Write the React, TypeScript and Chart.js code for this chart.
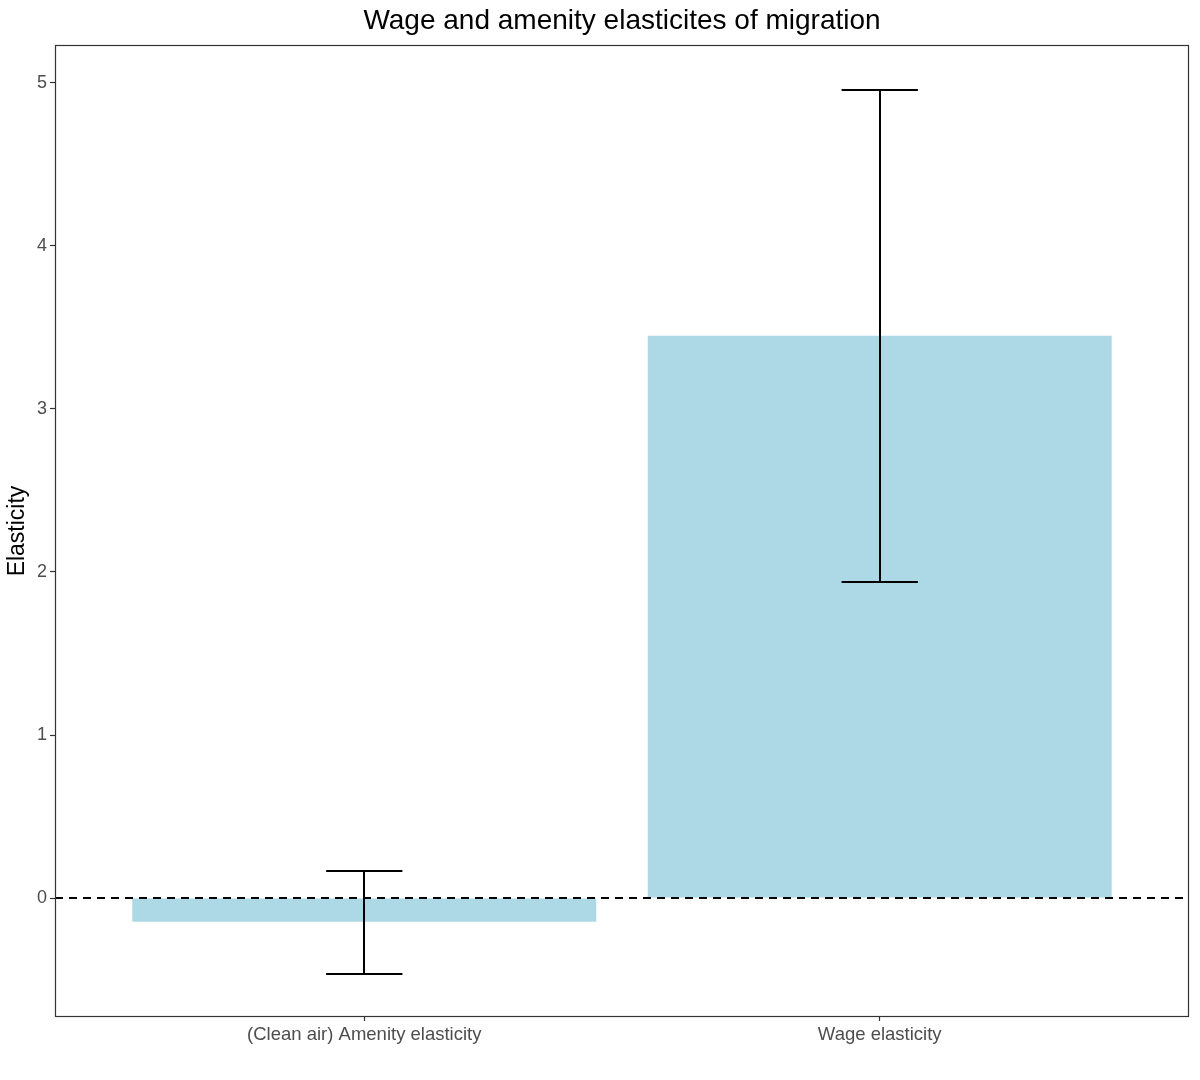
import React, { useEffect, useRef } from "react";
import { Chart, registerables } from "chart.js";

Chart.register(...registerables);

const categories = ["(Clean air) Amenity elasticity", "Wage elasticity"];
const positions = [1, 2];
const estimates = [-0.145, 3.45];
const lowerCI = [-0.465, 1.94];
const upperCI = [0.165, 4.96];
const yTicks = [0, 1, 2, 3, 4, 5];

const FONT = "'Liberation Sans', Arial, Helvetica, sans-serif";

const panelPlugin = {
  id: "panelDecor",
  afterDatasetsDraw(chart: any) {
    const { ctx, chartArea, scales } = chart;
    const xs = scales.x;
    const ys = scales.y;
    ctx.save();
    // dashed zero line
    ctx.beginPath();
    ctx.setLineDash([8, 6]);
    ctx.strokeStyle = "#000";
    ctx.lineWidth = 2;
    const y0 = Math.round(ys.getPixelForValue(0));
    ctx.moveTo(chartArea.left, y0);
    ctx.lineTo(chartArea.right, y0);
    ctx.stroke();
    ctx.setLineDash([]);
    // error bars
    ctx.lineWidth = 2;
    ctx.strokeStyle = "#000";
    for (let i = 0; i < positions.length; i++) {
      const xc = Math.round(xs.getPixelForValue(positions[i]));
      const xl = xs.getPixelForValue(positions[i] - 0.074);
      const xr = xs.getPixelForValue(positions[i] + 0.074);
      const yh = Math.round(ys.getPixelForValue(upperCI[i]));
      const yl = Math.round(ys.getPixelForValue(lowerCI[i]));
      ctx.beginPath();
      ctx.moveTo(xc, yh);
      ctx.lineTo(xc, yl);
      ctx.moveTo(xl, yh);
      ctx.lineTo(xr, yh);
      ctx.moveTo(xl, yl);
      ctx.lineTo(xr, yl);
      ctx.stroke();
    }
    // panel border
    ctx.strokeStyle = "#333";
    ctx.lineWidth = 1.2;
    ctx.strokeRect(
      chartArea.left + 0.5,
      chartArea.top + 0.5,
      chartArea.right - chartArea.left - 1,
      chartArea.bottom - chartArea.top - 1
    );
    // title
    ctx.fillStyle = "#000";
    ctx.font = `28px ${FONT}`;
    ctx.textAlign = "center";
    ctx.textBaseline = "middle";
    ctx.fillText(
      "Wage and amenity elasticites of migration",
      (chartArea.left + chartArea.right) / 2,
      21
    );
    ctx.restore();
  },
};

export default function App() {
  const ref = useRef<HTMLCanvasElement | null>(null);
  useEffect(() => {
    if (!ref.current) return;
    const chart = new Chart(ref.current, {
      type: "bar",
      data: {
        datasets: [
          {
            data: positions.map((x, i) => ({ x, y: estimates[i] })),
            backgroundColor: "#add8e6",
            borderWidth: 0,
            barPercentage: 0.9,
            categoryPercentage: 1,
          },
        ],
      },
      options: {
        animation: false,
        responsive: false,
        maintainAspectRatio: false,
        layout: { padding: { top: 45, right: 11, left: 0, bottom: 0 } },
        plugins: {
          legend: { display: false },
          tooltip: { enabled: false },
          title: { display: false },
        },
        scales: {
          x: {
            type: "linear",
            min: 0.4,
            max: 2.6,
            offset: false,
            afterBuildTicks: (scale: any) => {
              scale.ticks = positions.map((v) => ({ value: v }));
            },
            afterFit: (scale: any) => {
              scale.height = 63;
            },
            ticks: {
              autoSkip: false,
              maxRotation: 0,
              color: "#4d4d4d",
              font: { family: FONT, size: 18.5 },
              padding: 3,
              callback: (v: any) => categories[positions.indexOf(Number(v))] ?? "",
            },
            grid: {
              offset: false,
              drawOnChartArea: false,
              tickLength: 4,
              tickColor: "#333",
              tickWidth: 1.2,
            },
            border: { display: false },
          },
          y: {
            type: "linear",
            min: -0.73,
            max: 5.233,
            afterBuildTicks: (scale: any) => {
              scale.ticks = yTicks.map((v) => ({ value: v }));
            },
            afterFit: (scale: any) => {
              scale.width = 55;
            },
            title: {
              display: true,
              text: "Elasticity",
              color: "#000",
              font: { family: FONT, size: 23 },
              padding: { top: 4, bottom: 2 },
            },
            ticks: {
              color: "#4d4d4d",
              font: { family: FONT, size: 18 },
              padding: 3,
            },
            grid: {
              drawOnChartArea: false,
              tickLength: 5,
              tickColor: "#333",
              tickWidth: 1.2,
            },
            border: { display: false },
          },
        },
      },
      plugins: [panelPlugin],
    } as any);
    return () => chart.destroy();
  }, []);
  return (
    <div style={{ position: "fixed", left: 0, top: 0, width: 1200, height: 1080, background: "#fff" }}>
      <canvas ref={ref} width={1200} height={1080} style={{ display: "block" }} />
    </div>
  );
}
